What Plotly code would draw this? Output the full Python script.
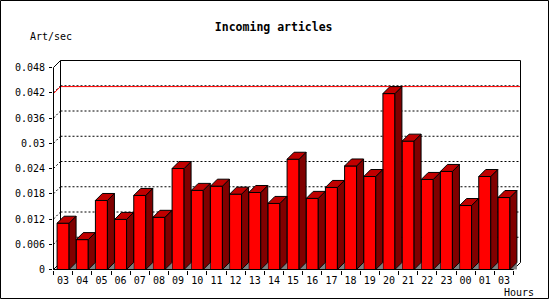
import plotly.graph_objects as go

# ---------------- data ----------------
hours = ["03", "04", "05", "06", "07", "08", "09", "10", "11", "12", "13", "14",
         "15", "16", "17", "18", "19", "20", "21", "22", "23", "00", "01", "03"]
articles_per_sec = [0.0110, 0.0071, 0.0164, 0.0119, 0.0176, 0.0124, 0.0240, 0.0188,
                    0.0198, 0.0179, 0.0183, 0.0157, 0.0262, 0.0169, 0.0195, 0.0246,
                    0.0221, 0.0418, 0.0305, 0.0214, 0.0233, 0.0152, 0.0221, 0.0171]
y_tick_vals = [0, 0.006, 0.012, 0.018, 0.024, 0.03, 0.036, 0.042, 0.048]
y_tick_text = ["0", "0.006", "0.012", "0.018", "0.024", "0.03", "0.036", "0.042", "0.048"]
title_text = "Incoming articles"
y_title = "Art/sec"
x_title = "Hours"

# ---------------- geometry ----------------
W, H = 550, 300
L, R, T, B = 53, 29, 60, 30
PW = W - L - R
PH = H - T - B
DEPTH = 7          # 3D offset in px
BAR_PX = 12        # bar front width in px
n = len(hours)
ytop = y_tick_vals[-1]
pxu = (PW - 1 - DEPTH) / n
pyu = (PH - 1 - DEPTH) / ytop
dx = DEPTH / pxu
dy = DEPTH / pyu
bw = BAR_PX / pxu
xr = [-0.5 - 0.5 / pxu, n - 0.5 + dx + 0.5 / pxu]
yr = [-0.5 / pyu, ytop + dy + 0.5 / pyu]
xl, xrt = -0.5, n - 0.5

FONT = "DejaVu Sans Mono"
FRONT, TOP, SIDE, FLOOR = "#FF0000", "#C00000", "#800000", "#808080"


def seg(x0, y0, x1, y1, color="black", dash=None, layer="below"):
    ln = dict(color=color, width=1)
    if dash:
        ln["dash"] = dash
    return dict(type="line", xref="x", yref="y", x0=x0, y0=y0, x1=x1, y1=y1,
                line=ln, layer=layer)


shapes = []
# grid lines on back wall (dotted), with diagonal from front axis
for v in y_tick_vals[1:-1]:
    shapes.append(seg(xl, v, xl + dx, v + dy, dash="2px,2px"))
    shapes.append(seg(xl + dx, v + dy, xrt + dx, v + dy, dash="2px,2px"))
# max line
vmax = max(articles_per_sec)
shapes.append(seg(xl, vmax, xl + dx, vmax + dy, color="#FF0000"))
shapes.append(seg(xl + dx, vmax + dy, xrt + dx, vmax + dy, color="#FF0000"))
# back wall frame
shapes.append(seg(xl + dx, dy, xl + dx, ytop + dy))
shapes.append(seg(xl + dx, ytop + dy, xrt + dx, ytop + dy))
shapes.append(seg(xrt + dx, ytop + dy, xrt + dx, dy))
shapes.append(seg(xrt + dx, dy, xrt, 0))
shapes.append(seg(xl, ytop, xl + dx, ytop + dy))
shapes.append(seg(xl, 0, xl + dx, dy))
# front axes
shapes.append(seg(xl, 0, xl, ytop, layer="above"))
shapes.append(seg(xl, 0, xrt, 0, layer="above"))
# outer frame of the image
shapes.append(dict(type="rect", xref="paper", yref="paper",
                   x0=(0.5 - L) / PW, x1=(548.5 - L) / PW,
                   y0=1 - (298.5 - T) / PH, y1=1 - (0.5 - T) / PH,
                   line=dict(color="black", width=1), layer="above"))

# 3D faces built from data
gx, gy, sx, sy, tx, ty = [], [], [], [], [], []
for i, v in enumerate(articles_per_sec):
    r = i + bw / 2
    lft = i - bw / 2
    gx += [r, r + dx, r + dx, r, None]
    gy += [0, 0, dy, 0, None]
    sx += [r, r + dx, r + dx, r, r, None]
    sy += [0, dy, v + dy, v, 0, None]
    tx += [lft, r, r + dx, lft + dx, lft, None]
    ty += [v, v, v + dy, v + dy, v, None]

fig = go.Figure()
fig.add_trace(go.Bar(x=list(range(n)), y=articles_per_sec, width=bw,
                     marker=dict(color=FRONT, line=dict(color="black", width=1)),
                     hoverinfo="skip"))
fig.add_trace(go.Scatter(x=gx, y=gy, mode="none", fill="toself", fillcolor=FLOOR,
                         hoverinfo="skip"))
fig.add_trace(go.Scatter(x=sx, y=sy, mode="lines", fill="toself", fillcolor=SIDE,
                         line=dict(color="black", width=1), hoverinfo="skip"))
fig.add_trace(go.Scatter(x=tx, y=ty, mode="lines", fill="toself", fillcolor=TOP,
                         line=dict(color="black", width=1), hoverinfo="skip"))

fig.update_layout(
    width=W, height=H,
    margin=dict(l=L, r=R, t=T, b=B, pad=0, autoexpand=False),
    paper_bgcolor="white", plot_bgcolor="white",
    showlegend=False,
    font=dict(family=FONT, size=10, color="black"),
    title=dict(text=title_text, x=273.7 / W, xref="container", xanchor="center",
               y=1 - 26.5 / H, yref="container", yanchor="middle",
               font=dict(family=FONT, size=11.5, color="black", weight="bold")),
    xaxis=dict(range=xr, tickmode="array", tickvals=list(range(n)), ticktext=hours,
               ticks="", showline=False, showgrid=False, zeroline=False,
               ticklabelstandoff=3,
               tickfont=dict(family=FONT, size=10, color="black"),
               minor=dict(tickmode="array", tickvals=[i - 0.5 for i in range(n + 1)],
                          ticks="outside", ticklen=4, tickcolor="black", tickwidth=1,
                          showgrid=False),
               fixedrange=True),
    yaxis=dict(range=yr, tickmode="array", tickvals=y_tick_vals, ticktext=y_tick_text,
               ticks="outside", ticklen=3, tickcolor="black", tickwidth=1,
               ticklabelstandoff=2,
               showline=False, showgrid=False, zeroline=False,
               tickfont=dict(family=FONT, size=10, color="black"),
               fixedrange=True),
    shapes=shapes,
    annotations=[
        dict(text=y_title, xref="paper", yref="paper", x=(50.5 - L) / PW,
             y=1 - (37 - T) / PH, xanchor="center", yanchor="middle", showarrow=False,
             font=dict(family=FONT, size=10, color="black")),
        dict(text=x_title, xref="paper", yref="paper", x=(518.5 - L) / PW,
             y=1 - (292 - T) / PH, xanchor="center", yanchor="middle", showarrow=False,
             font=dict(family=FONT, size=10, color="black")),
    ],
)

fig.write_html("out.html")
